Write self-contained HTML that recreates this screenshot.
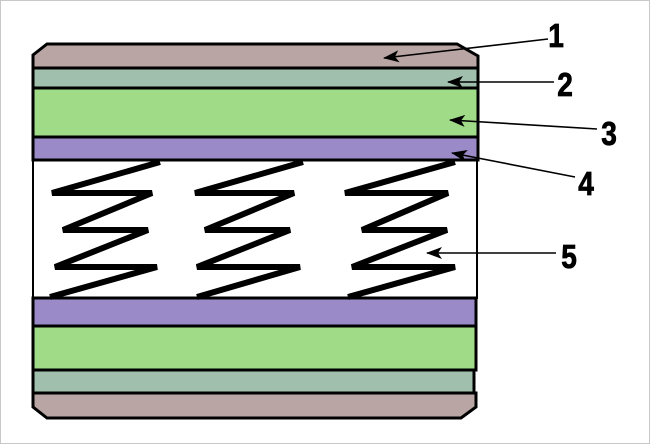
<!DOCTYPE html>
<html><head><meta charset="utf-8"><style>
html,body{margin:0;padding:0;background:#fff}
svg{display:block}
text{font-family:"Liberation Sans",Arial,sans-serif;font-weight:bold;font-size:33px}
</style></head><body>
<svg width="650" height="444" viewBox="0 0 650 444" xmlns="http://www.w3.org/2000/svg">
<defs>
<marker id="ah" markerWidth="16" markerHeight="12" refX="15" refY="6" orient="auto" markerUnits="userSpaceOnUse">
<path d="M0,0 L16,6 L0,12 L4,6 Z" fill="#000"/>
</marker>
</defs>
<rect x="0.5" y="0.5" width="649" height="443" fill="#fff" stroke="#c8c8c8"/>
<rect x="33" y="160" width="444" height="138" fill="#fff" stroke="#000" stroke-width="2"/>
<path d="M33,55 L47,44 L457,44 L478,56 L478,68 L33,68 Z" fill="#b9a5a3" stroke="#000" stroke-width="3"/>
<rect x="33" y="68" width="445" height="20" fill="#a0bfac" stroke="#000" stroke-width="3"/>
<rect x="33" y="88" width="445" height="49" fill="#a0db87" stroke="#000" stroke-width="3"/>
<rect x="33" y="137" width="445" height="23" fill="#9a8bc8" stroke="#000" stroke-width="3"/>
<rect x="33" y="298" width="443" height="28" fill="#9a8bc8" stroke="#000" stroke-width="3"/>
<rect x="33" y="326" width="443" height="44" fill="#a0db87" stroke="#000" stroke-width="3"/>
<rect x="33" y="370" width="441" height="23" fill="#a0bfac" stroke="#000" stroke-width="3"/>
<path d="M33,393 L476,393 L476,407 L461,418 L47,418 L33,407 Z" fill="#b9a5a3" stroke="#000" stroke-width="3"/>
<g fill="none" stroke="#000" stroke-width="6" stroke-linejoin="miter">
<polyline points="160,162 52,193 152,193 63,230 148,230 55,267 157,267 50,297"/>
<polyline points="303,162 195,193 294,193 205,230 290,230 197,267 300,267 197,297"/>
<polyline points="455,162 345,193 448,193 362,230 447,230 352,267 455,267 348,297"/>
</g>
<g stroke="#000" stroke-width="1.6" fill="none" marker-end="url(#ah)">
<line x1="548" y1="39" x2="384" y2="58"/>
<line x1="554" y1="82" x2="448" y2="82"/>
<line x1="597" y1="129" x2="450" y2="120"/>
<line x1="575" y1="177" x2="452" y2="153"/>
<line x1="556" y1="253" x2="427" y2="253"/>
</g>
<g fill="#000" stroke="#000" stroke-width="0.8">
<text x="556" y="47" text-anchor="middle" transform="translate(556 0) scale(0.85 1) translate(-556 0)">1</text>
<text x="565" y="96" text-anchor="middle" transform="translate(565 0) scale(0.85 1) translate(-565 0)">2</text>
<text x="609" y="145" text-anchor="middle" transform="translate(609 0) scale(0.85 1) translate(-609 0)">3</text>
<text x="586" y="195" text-anchor="middle" transform="translate(586 0) scale(0.85 1) translate(-586 0)">4</text>
<text x="569" y="268" text-anchor="middle" transform="translate(569 0) scale(0.85 1) translate(-569 0)">5</text>
</g>
</svg>
</body></html>
